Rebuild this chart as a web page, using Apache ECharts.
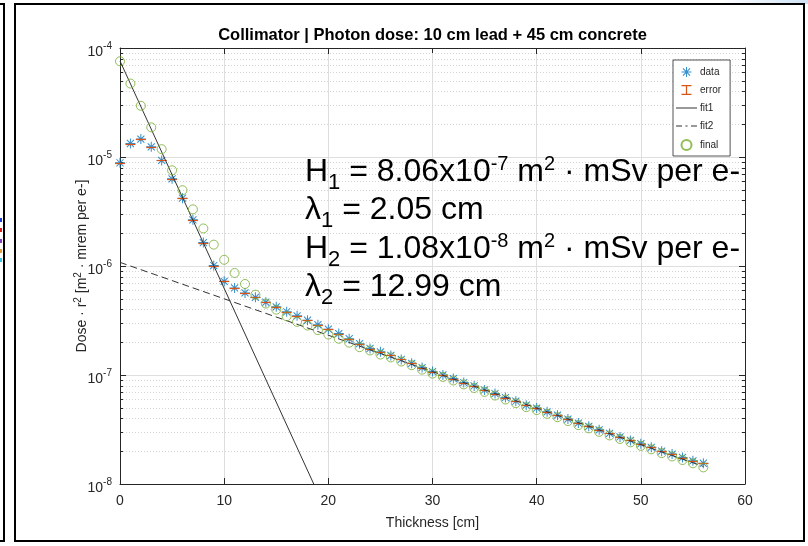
<!DOCTYPE html>
<html><head><meta charset="utf-8">
<script src="https://cdn.jsdelivr.net/npm/echarts@6/dist/echarts.min.js"></script>
<style>html,body{margin:0;padding:0;background:#fff}#c{width:808px;height:546px}</style>
</head><body><div id="c"></div>
<script>
// ---------- data ----------
const thickness = [0,1,2,3,4,5,6,7,8,9,10,11,12,13,14,15,16,17,18,19,20,21,22,23,24,25,26,27,28,29,30,31,32,33,34,35,36,37,38,39,40,41,42,43,44,45,46,47,48,49,50,51,52,53,54,55,56];
const doseData = [8.85e-6,1.33e-5,1.46e-5,1.24e-5,9.3e-6,6.3e-6,4.19e-6,2.65e-6,1.64e-6,1.01e-6,
  7.23e-7,6.29e-7,5.66e-7,5.16e-7,4.65e-7,4.22e-7,3.8e-7,3.49e-7,3.18e-7,2.89e-7,
  2.63e-7,2.4e-7,2.15e-7,1.94e-7,1.75e-7,1.63e-7,1.51e-7,1.39e-7,1.28e-7,1.17e-7,
  1.074e-7,1.0e-7,9.27e-8,8.53e-8,7.93e-8,7.29e-8,6.76e-8,6.21e-8,5.75e-8,5.29e-8,
  4.97e-8,4.59e-8,4.28e-8,3.94e-8,3.62e-8,3.38e-8,3.14e-8,2.91e-8,2.7e-8,2.51e-8,
  2.34e-8,2.17e-8,2.0e-8,1.88e-8,1.75e-8,1.63e-8,1.55e-8];
const doseFinal = [7.55e-5,4.72e-5,2.95e-5,1.87e-5,1.18e-5,7.55e-6,4.96e-6,3.31e-6,2.21e-6,1.57e-6,
  1.14e-6,8.63e-7,6.84e-7,5.46e-7,4.52e-7,3.98e-7,3.46e-7,3.07e-7,2.84e-7,2.58e-7,
  2.35e-7,2.15e-7,1.98e-7,1.8e-7,1.68e-7,1.54e-7,1.45e-7,1.33e-7,1.23e-7,1.12e-7,
  1.03e-7,9.6e-8,8.9e-8,8.2e-8,7.6e-8,7.0e-8,6.48e-8,5.96e-8,5.51e-8,5.07e-8,
  4.77e-8,4.4e-8,4.1e-8,3.78e-8,3.47e-8,3.24e-8,3.01e-8,2.79e-8,2.59e-8,2.41e-8,
  2.24e-8,2.08e-8,1.92e-8,1.79e-8,1.66e-8,1.55e-8,1.42e-8];
const fit1Ends = [[0, 7.6e-5], [18.6, 1e-8]];
const fit2Ends = [[0, 1.08e-6], [56, 1.45e-8]];
const xRange = [0, 60];
const xStep = 10;
const yRange = [1e-8, 1e-4];
const minorMult = [2,3,4,5,6,7,8,9];
const minorDecades = [-8,-7,-6,-5];
const titleText = 'Collimator | Photon dose: 10 cm lead + 45 cm concrete';
const xName = 'Thickness [cm]';
const annotLines = [
  '{m|H}{b|1}{m| = 8.06x10}{p|-7}{m| m}{p|2}{m| · mSv per e-}',
  '{m|λ}{b|1}{m| = 2.05 cm}',
  '{m|H}{b|2}{m| = 1.08x10}{p|-8}{m| m}{p|2}{m| · mSv per e-}',
  '{m|λ}{b|2}{m| = 12.99 cm}'
];

// ---------- build ----------
const FF = '"Liberation Sans", Arial, Helvetica, sans-serif';
const AX = '#262626';
const C_DATA = '#0072BD', C_ERR = '#D95319', C_FIN = '#77AC30', C_FIT = '#333333';
const ASTER = 'path://M9,0H11V20H9Z M0,9H20V11H0Z M3.64,2.22L17.78,16.36L16.36,17.78L2.22,3.64Z M16.36,2.22L17.78,3.64L3.64,17.78L2.22,16.36Z';
const IBEAM = 'path://M0,0H10V1.2H5.6V8.8H10V10H0V8.8H4.4V1.2H0Z';
const SOLID = 'path://M0,0H21V1H0Z';
const DASHED = 'path://M0,0H6V1H0Z M9.5,0H11.5V1H9.5Z M15,0H21V1H15Z';

const pts = (ys) => thickness.map((x, i) => [x, ys[i]]);
const minorData = [];
minorDecades.forEach(d => minorMult.forEach(m => minorData.push([xRange[0], m * Math.pow(10, d)])));

const chart = echarts.init(document.getElementById('c'), null, {renderer: 'canvas', width: 808, height: 546});
const crisp = v => Math.round(v) + 0.5;

const annotGraphics = annotLines.map((t, i) => ({
  type: 'text', x: 305, y: [172, 210.5, 249, 287.5][i], z: 100,
  style: {
    text: t, align: 'left', verticalAlign: 'middle',
    rich: {
      m: {fontSize: 32, lineHeight: 37, fontFamily: FF, fill: '#000'},
      b: {fontSize: 22, lineHeight: 22, fontFamily: FF, fill: '#000', padding: [21, 0, 0, 0]},
      p: {fontSize: 20, lineHeight: 20, fontFamily: FF, fill: '#000', padding: [0, 0, 15, 0]}
    }
  }
}));

const option = {
  backgroundColor: '#fff',
  animation: false,
  grid: {left: 120, right: 63, top: 48, bottom: 62, containLabel: false},
  legend: {
    data: [
      {name: 'data', icon: ASTER},
      {name: 'error', icon: IBEAM},
      {name: 'fit1', icon: SOLID},
      {name: 'fit2', icon: DASHED},
      {name: 'final', icon: 'circle'}
    ],
    orient: 'vertical', left: 673, top: 60,
    itemWidth: 21, itemHeight: 10, itemGap: 8,
    padding: [7, 9, 5, 3],
    backgroundColor: '#fff', borderColor: AX, borderWidth: 0.8, borderRadius: 0,
    textStyle: {fontSize: 10, color: AX, fontFamily: FF, padding: [0, 0, 0, -2]},
    selectedMode: false, z: 50
  },
  xAxis: [{
    type: 'value', min: xRange[0], max: xRange[1], interval: xStep, position: 'bottom',
    name: xName, nameLocation: 'middle', nameGap: 32, nameMoveOverlap: false,
    nameTextStyle: {fontSize: 14, color: AX, fontFamily: FF},
    axisLine: {show: true, onZero: false, lineStyle: {color: AX, width: 1}},
    axisTick: {show: true, inside: true, length: 6, lineStyle: {color: AX}},
    axisLabel: {fontSize: 14, color: AX, fontFamily: FF, margin: 10},
    splitLine: {show: true, lineStyle: {color: '#dedede', width: 1}}
  }, {
    type: 'value', min: xRange[0], max: xRange[1], interval: xStep, position: 'top',
    axisLine: {show: true, onZero: false, lineStyle: {color: AX, width: 1}},
    axisTick: {show: true, inside: true, length: 6, lineStyle: {color: AX}},
    axisLabel: {show: false}, splitLine: {show: false}
  }],
  yAxis: [{
    type: 'log', logBase: 10, min: yRange[0], max: yRange[1], position: 'left',
    name: '{n|Dose · r}{s|2}{n| [m}{s|2}{n| · mrem per e-]}',
    nameLocation: 'middle', nameGap: 30, nameMoveOverlap: false,
    nameTextStyle: {
      rich: {
        n: {fontSize: 14, lineHeight: 16, color: AX, fontFamily: FF},
        s: {fontSize: 10, lineHeight: 10, color: AX, fontFamily: FF, padding: [0, 0, 8, 0]}
      }
    },
    axisLine: {show: true, onZero: false, lineStyle: {color: AX, width: 1}},
    axisTick: {show: true, inside: true, length: 6, lineStyle: {color: AX}},
    axisLabel: {
      margin: 8, fontFamily: FF,
      formatter: v => '{b|10}{s|' + Math.round(Math.log10(v)) + '}',
      rich: {
        b: {fontSize: 14, lineHeight: 14, color: AX, fontFamily: FF, padding: [8, 0, 0, 0]},
        s: {fontSize: 10, lineHeight: 10, color: AX, fontFamily: FF, padding: [0, 0, 3, 0]}
      }
    },
    splitLine: {show: true, lineStyle: {color: '#dedede', width: 1}}
  }, {
    type: 'log', logBase: 10, min: yRange[0], max: yRange[1], position: 'right',
    axisLine: {show: true, onZero: false, lineStyle: {color: AX, width: 1}},
    axisTick: {show: true, inside: true, length: 6, lineStyle: {color: AX}},
    axisLabel: {show: false}, splitLine: {show: false}
  }],
  series: [
    {
      name: 'minorgrid', type: 'custom', xAxisIndex: 0, yAxisIndex: 0, silent: true, z: 1,
      encode: {x: 0, y: 1}, data: minorData,
      renderItem: (params, api) => {
        const v = api.value(1);
        const a = api.coord([xRange[0], v]);
        const b = api.coord([xRange[1], v]);
        const y = crisp(a[1]);
        return {type: 'group', children: [
          {type: 'line', shape: {x1: a[0], y1: y, x2: b[0], y2: y}, style: {stroke: '#d4d4d4', lineWidth: 1, lineDash: [1, 2]}},
          {type: 'line', shape: {x1: a[0], y1: y, x2: a[0] + 3, y2: y}, style: {stroke: AX, lineWidth: 1}},
          {type: 'line', shape: {x1: b[0] - 3, y1: y, x2: b[0], y2: y}, style: {stroke: AX, lineWidth: 1}}
        ]};
      }
    },
    {
      name: 'data', type: 'scatter', symbol: ASTER, symbolSize: 10, z: 3,
      itemStyle: {color: C_DATA}, data: pts(doseData)
    },
    {
      name: 'error', type: 'custom', z: 4, itemStyle: {color: C_ERR},
      encode: {x: 0, y: 1}, data: pts(doseData),
      renderItem: (params, api) => {
        const p = api.coord([api.value(0), api.value(1)]);
        const y = crisp(p[1]);
        return {type: 'group', children: [
          {type: 'line', shape: {x1: p[0] - 5, y1: y, x2: p[0] + 5, y2: y}, style: {stroke: C_ERR, lineWidth: 1.2}},
          {type: 'line', shape: {x1: p[0], y1: y - 1, x2: p[0], y2: y + 1}, style: {stroke: C_ERR, lineWidth: 1}}
        ]};
      }
    },
    {
      name: 'fit1', type: 'line', symbol: 'none', z: 5, clip: true,
      lineStyle: {color: C_FIT, width: 1}, itemStyle: {color: C_FIT}, data: fit1Ends
    },
    {
      name: 'fit2', type: 'line', symbol: 'none', z: 5, clip: true,
      lineStyle: {color: C_FIT, width: 1, type: [7, 4]}, itemStyle: {color: C_FIT}, data: fit2Ends
    },
    {
      name: 'final', type: 'scatter', symbol: 'circle', symbolSize: 9, z: 6,
      itemStyle: {color: 'rgba(255,255,255,0)', borderColor: C_FIN, borderWidth: 1}, data: pts(doseFinal)
    }
  ],
  graphic: [
    {type: 'rect', z: 0, silent: true, shape: {x: 720, y: 0, width: 88, height: 4},
      style: {fill: new echarts.graphic.LinearGradient(0, 0, 1, 0, [{offset: 0, color: '#ffffff'}, {offset: 1, color: '#cfe2f5'}])}},
    {type: 'rect', z: 90, silent: true, shape: {x: 15, y: 4, width: 789, height: 537}, style: {fill: 'none', stroke: '#000', lineWidth: 2}},
    {type: 'rect', z: 90, silent: true, shape: {x: -10, y: 4, width: 14, height: 537}, style: {fill: 'none', stroke: '#000', lineWidth: 2}},
    {type: 'rect', z: 90, silent: true, shape: {x: 0, y: 218, width: 2, height: 4}, style: {fill: '#1f3fd8'}},
    {type: 'rect', z: 90, silent: true, shape: {x: 0, y: 228, width: 2, height: 4}, style: {fill: '#e0201c'}},
    {type: 'rect', z: 90, silent: true, shape: {x: 0, y: 239, width: 2, height: 4}, style: {fill: '#8e3fc8'}},
    {type: 'rect', z: 90, silent: true, shape: {x: 0, y: 249, width: 2, height: 4}, style: {fill: '#e8a13a'}},
    {type: 'rect', z: 90, silent: true, shape: {x: 0, y: 258, width: 2, height: 4}, style: {fill: '#3cc8e0'}},
    {type: 'text', x: 432.5, y: 35, z: 100,
      style: {text: titleText, font: 'bold 16.5px ' + FF, fill: '#000', align: 'center', verticalAlign: 'middle'}}
  ].concat(annotGraphics)
};
chart.setOption(option);
</script>
</body></html>
